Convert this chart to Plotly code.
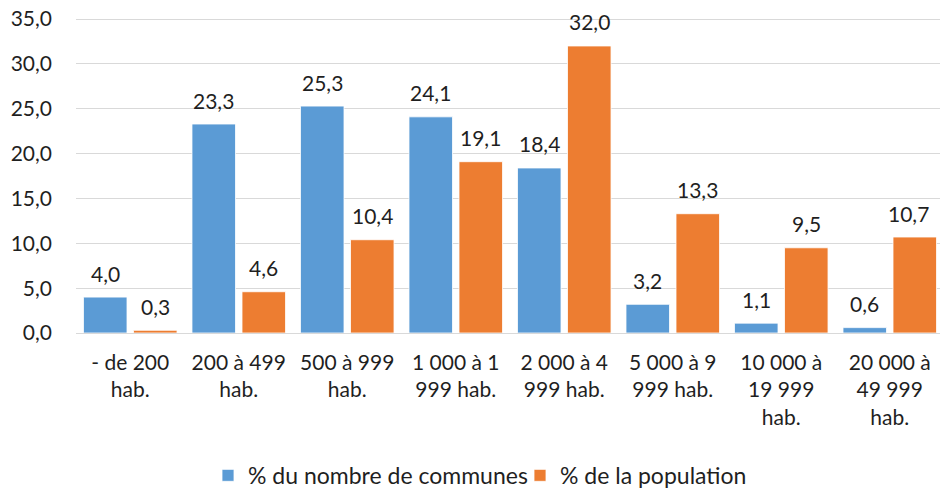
import plotly.graph_objects as go

categories = ["- de 200<br>hab.", "200 à 499<br>hab.", "500 à 999<br>hab.", "1 000 à 1<br>999 hab.",
              "2 000 à 4<br>999 hab.", "5 000 à 9<br>999 hab.", "10 000 à<br>19 999<br>hab.", "20 000 à<br>49 999<br>hab."]
communes = [4.0, 23.3, 25.3, 24.1, 18.4, 3.2, 1.1, 0.6]
population = [0.3, 4.6, 10.4, 19.1, 32.0, 13.3, 9.5, 10.7]
series_names = ["% du nombre de communes", "% de la population"]
y_ticks = [0, 5, 10, 15, 20, 25, 30, 35]

BLUE = "#5B9BD5"
ORANGE = "#ED7D31"
FONT = "Lato"
TXT = "#1f1f1f"

def fmt(v):
    return f"{v:.1f}".replace(".", ",")

fig = go.Figure()
fig.add_trace(go.Bar(x=categories, y=communes, name=series_names[0], marker_color=BLUE,
                     marker_line=dict(color="white", width=0.8)))
fig.add_trace(go.Bar(x=categories, y=population, name=series_names[1], marker_color=ORANGE,
                     marker_line=dict(color="white", width=0.8)))

annotations = []
for cat, v in zip(categories, communes):
    annotations.append(dict(x=cat, y=v, xref="x", yref="y", text=fmt(v), showarrow=False,
                            xshift=-25, yshift=24, yanchor="middle",
                            font=dict(family=FONT, size=21, color=TXT)))
for i, (cat, v) in enumerate(zip(categories, population)):
    xs = 25 if i < len(categories) - 1 else 19
    annotations.append(dict(x=cat, y=v, xref="x", yref="y", text=fmt(v), showarrow=False,
                            xshift=xs, yshift=24, yanchor="middle",
                            font=dict(family=FONT, size=21, color=TXT)))

fig.update_layout(
    width=940, height=489,
    margin=dict(l=76, r=0, t=18, b=156, autoexpand=False),
    paper_bgcolor="white", plot_bgcolor="white",
    barmode="group", bargap=0.078, bargroupgap=0.13,
    separators=", ",
    font=dict(family=FONT, size=21, color=TXT),
    showlegend=True,
    legend=dict(orientation="h", x=132 / 864, xanchor="left", y=-0.452, yanchor="middle",
                font=dict(family=FONT, size=23, color=TXT), itemwidth=30,
                entrywidth=267, entrywidthmode="pixels", traceorder="normal"),
    annotations=annotations,
)
fig.update_xaxes(range=[-0.5, 7.463], showgrid=False, showline=False, ticks="", automargin=False,
                 ticklabelstandoff=15, tickfont=dict(family=FONT, size=21, color=TXT))
fig.update_yaxes(range=[0, 35.12], tickvals=y_ticks, tickformat=".1f", showgrid=True, automargin=False,
                 gridcolor="#D9D9D9", gridwidth=1, zeroline=True, zerolinecolor="#D9D9D9",
                 zerolinewidth=1, showline=False, ticks="", ticklabelstandoff=23,
                 tickfont=dict(family=FONT, size=21, color=TXT))

fig.write_html("out.html", config={"displayModeBar": False},
               post_script="document.body.style.margin='0';")
